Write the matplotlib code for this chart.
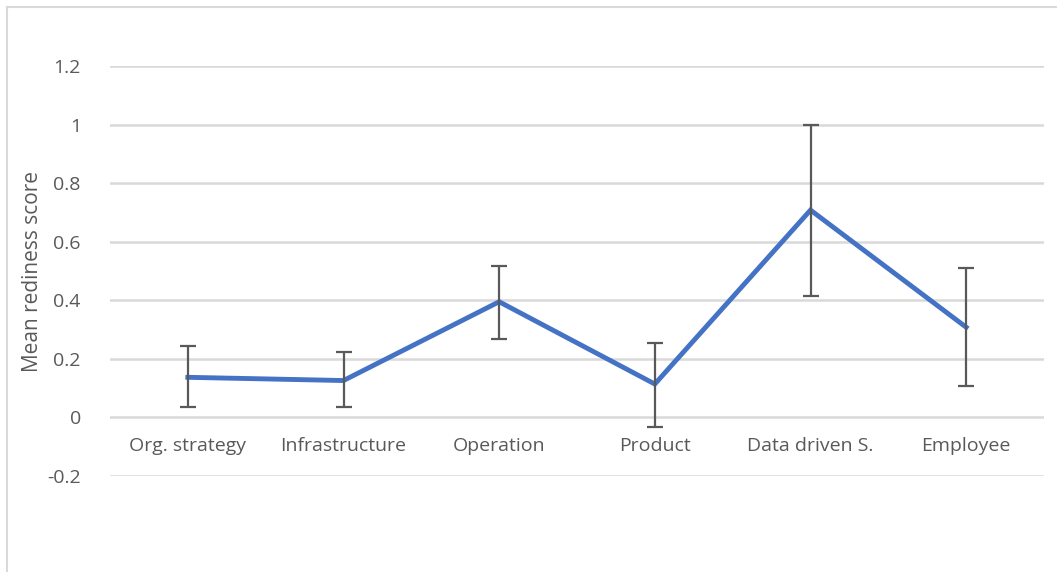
import numpy as np
import matplotlib.pyplot as plt
from matplotlib.lines import Line2D

plt.rcParams['font.family'] = ['Open Sans', 'DejaVu Sans']

# data
categories = ['Org. strategy', 'Infrastructure', 'Operation', 'Product', 'Data driven S.', 'Employee']
means = [0.137, 0.126, 0.395, 0.114, 0.708, 0.308]
err_lo = [0.103, 0.092, 0.128, 0.145, 0.294, 0.199]
err_hi = [0.106, 0.096, 0.121, 0.139, 0.292, 0.201]
yticks = [-0.2, 0, 0.2, 0.4, 0.6, 0.8, 1, 1.2]
ytick_labels = ['-0.2', '0', '0.2', '0.4', '0.6', '0.8', '1', '1.2']

text_col = '#595959'
grid_col = '#d9d9d9'

fig = plt.figure(figsize=(10.57, 5.72), dpi=100)
ax = fig.add_axes([110 / 1057, 1 - 476 / 572, (1044 - 110) / 1057, (476 - 66) / 572])

x = np.arange(len(categories))
ax.plot(x, means, color='#4472C4', lw=3.5, solid_joinstyle='miter', zorder=3)
ax.errorbar(x, means, yerr=[err_lo, err_hi], fmt='none', ecolor=text_col,
            elinewidth=1.6, capsize=6, capthick=1.6, zorder=4)

ax.set_xlim(-0.5, len(categories) - 0.5)
ax.set_ylim(-0.2, 1.2)
ax.set_yticks(yticks)
ax.set_yticklabels(ytick_labels)
ax.yaxis.grid(True, color=grid_col, lw=1.8)
ax.set_axisbelow(True)
for s in ax.spines.values():
    s.set_visible(False)
ax.tick_params(axis='y', length=0, pad=21, labelsize=14, labelcolor=text_col)

# category labels sit just under the zero line, like Excel
ax.set_xticks([])
for xi, c in zip(x, categories):
    ax.text(xi, -0.068, c, ha='center', va='top', fontsize=14, color=text_col)

ax.set_ylabel('Mean rediness score', fontsize=15, color=text_col)
ax.yaxis.set_label_coords(-0.072, 0.5)

# chart area border (top and left visible)
fig.add_artist(Line2D([7 / 1057, 1], [1 - 7 / 572, 1 - 7 / 572], color=grid_col, lw=1.5))
fig.add_artist(Line2D([7 / 1057, 7 / 1057], [0, 1 - 7 / 572], color=grid_col, lw=1.5))

fig.savefig('out.png', dpi=100)
